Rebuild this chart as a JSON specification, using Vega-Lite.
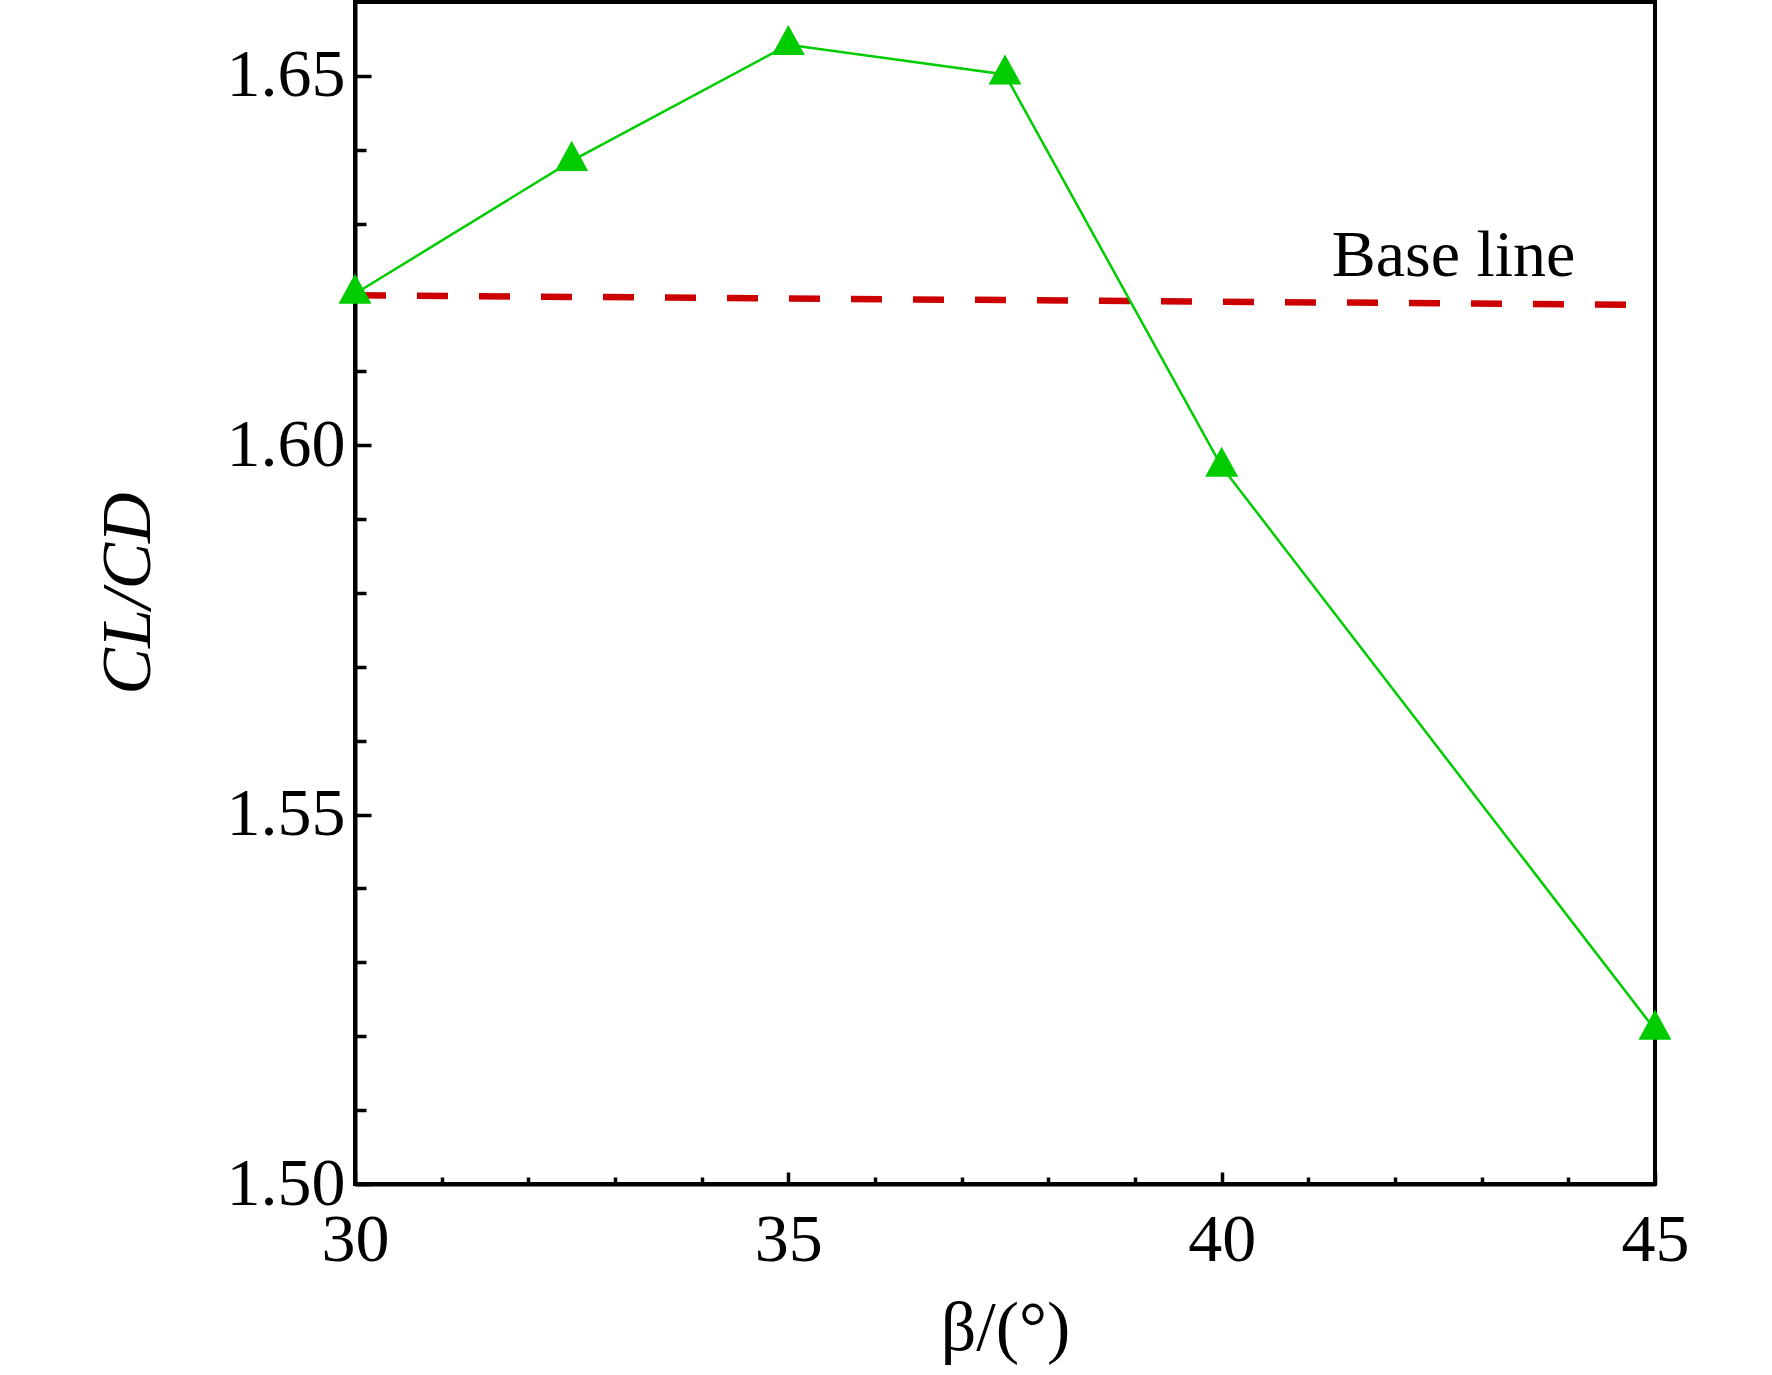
{
  "$schema": "https://vega.github.io/schema/vega-lite/v6.json",
  "width": 1300,
  "height": 1182,
  "autosize": "none",
  "padding": {"left": 355, "top": 2, "right": 117, "bottom": 191},
  "background": "white",
  "config": {
    "view": {"stroke": "black", "strokeWidth": 4},
    "axis": {
      "domainColor": "black",
      "domainWidth": 4,
      "tickColor": "black",
      "tickWidth": 3.5,
      "grid": false,
      "labelFont": "Liberation Serif",
      "labelFontSize": 68,
      "labelColor": "black",
      "labelFlush": false,
      "labelOverlap": false,
      "titleFont": "Liberation Serif",
      "titleFontSize": 70,
      "titleFontWeight": "normal",
      "titleColor": "black",
      "zindex": 1
    }
  },
  "datasets": {
    "series": [
      {"beta": 30, "ratio": 1.6205},
      {"beta": 32.5, "ratio": 1.6385},
      {"beta": 35, "ratio": 1.6542},
      {"beta": 37.5, "ratio": 1.6502},
      {"beta": 40, "ratio": 1.5971},
      {"beta": 45, "ratio": 1.5209}
    ],
    "baseline": [
      {"beta": 30, "ratio": 1.6203},
      {"beta": 45, "ratio": 1.6190}
    ],
    "note": [
      {"beta": 42.675, "ratio": 1.6229, "label": "Base line"}
    ]
  },
  "layer": [
    {
      "data": {"name": "baseline"},
      "mark": {"type": "line", "color": "#cc0000", "strokeWidth": 6.5, "strokeDash": [31, 31]},
      "encoding": {
        "x": {
          "field": "beta", "type": "quantitative",
          "scale": {"domain": [30, 45], "nice": false, "zero": false},
          "axis": {
            "orient": "bottom", "values": [31, 32, 33, 34, 36, 37, 38, 39, 41, 42, 43, 44],
            "tickSize": -7, "labels": false, "domain": false, "title": null
          }
        },
        "y": {
          "field": "ratio", "type": "quantitative",
          "scale": {"domain": [1.5, 1.66], "nice": false, "zero": false},
          "axis": {
            "orient": "left",
            "values": [1.51, 1.52, 1.53, 1.54, 1.56, 1.57, 1.58, 1.59, 1.61, 1.62, 1.63, 1.64],
            "tickSize": -11, "labels": false, "domain": false, "title": null
          }
        }
      }
    },
    {
      "data": {"name": "series"},
      "mark": {"type": "line", "color": "#00cc00", "strokeWidth": 2.5},
      "encoding": {
        "x": {
          "field": "beta", "type": "quantitative",
          "axis": {
            "orient": "bottom", "values": [30, 35, 40, 45], "format": "d",
            "tickSize": -12, "labelPadding": 34, "title": "β/(°)", "titlePadding": 20
          }
        },
        "y": {
          "field": "ratio", "type": "quantitative",
          "axis": {
            "orient": "left", "values": [1.5, 1.55, 1.6, 1.65], "format": ".2f",
            "tickSize": -16, "labelPadding": 26, "title": "CL/CD",
            "titleFontStyle": "italic", "titlePadding": 62
          }
        }
      }
    },
    {
      "data": {"name": "series"},
      "mark": {
        "type": "point", "filled": true, "opacity": 1, "color": "#00cc00", "size": 1089,
        "shape": "M0,-1.21L1,0.61L-1,0.61Z"
      },
      "encoding": {
        "x": {"field": "beta", "type": "quantitative", "axis": null},
        "y": {"field": "ratio", "type": "quantitative", "axis": null}
      }
    },
    {
      "data": {"name": "note"},
      "mark": {
        "type": "text", "font": "Liberation Serif", "fontSize": 66, "color": "black",
        "align": "center", "baseline": "alphabetic"
      },
      "encoding": {
        "x": {"field": "beta", "type": "quantitative", "axis": null},
        "y": {"field": "ratio", "type": "quantitative", "axis": null},
        "text": {"field": "label"}
      }
    }
  ],
  "resolve": {"axis": {"x": "independent", "y": "independent"}}
}
